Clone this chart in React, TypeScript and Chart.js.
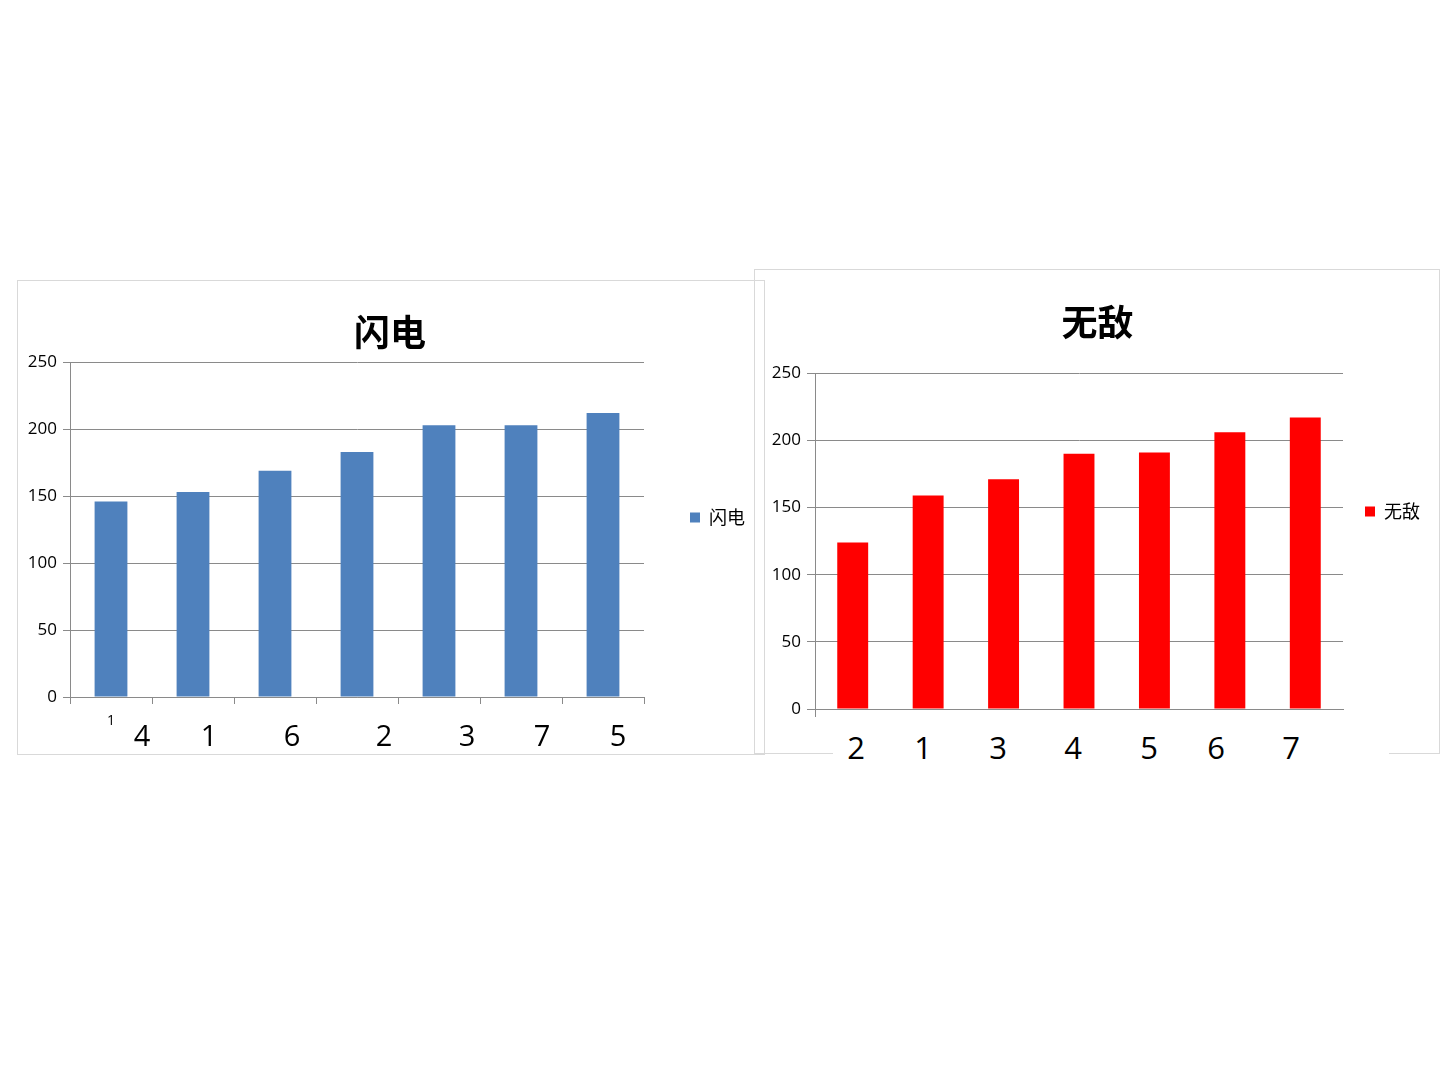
import React, { useEffect, useRef } from "react";
import { Chart, registerables } from "chart.js";

Chart.register(...registerables);

// ---- data ----
const leftTitle = "闪电";
const leftSeriesName = "闪电";
const leftAxisLabels = ["1", "", "", "", "", "", ""];
const leftValues = [146, 153, 169, 183, 203, 203, 212];
const leftNames = ["4", "1", "6", "2", "3", "7", "5"];

const rightTitle = "无敌";
const rightSeriesName = "无敌";
const rightAxisLabels = ["", "", "", "", "", "", ""];
const rightValues = [124, 159, 171, 190, 191, 206, 217];
const rightNames = ["2", "1", "3", "4", "5", "6", "7"];

const yMin = 0;
const yMax = 250;
const yStep = 50;

// ---- layout (page pixels) ----
const leftNameX = [142, 209, 292, 384, 467, 542, 618];
const rightNameX = [856, 923, 998, 1073, 1149, 1216, 1291];

const FONT = '"Open Sans", "Noto Sans CJK SC", sans-serif';
const CJK = '"Noto Sans CJK SC", "Open Sans", sans-serif';
const GRID = "#8a8a8a";

type Cfg = {
  labels: string[];
  values: number[];
  title: string;
  series: string;
  color: string;
  width: number;
  height: number;
  padding: { left: number; right: number; top: number; bottom: number };
  titlePad: { top: number; bottom: number };
  legendPad: number;
  yWidth: number;
  yTickLen: number;
  xHeight: number;
  xTickLen: number;
  xTicksAll: boolean;
  barPct: number;
};

function BarChart({ cfg }: { cfg: Cfg }) {
  const ref = useRef<HTMLCanvasElement | null>(null);
  useEffect(() => {
    if (!ref.current) return;
    const chart = new Chart(ref.current, {
      type: "bar",
      data: {
        labels: cfg.labels,
        datasets: [
          {
            label: cfg.series,
            data: cfg.values,
            backgroundColor: cfg.color,
            borderWidth: 0,
            barPercentage: cfg.barPct,
            categoryPercentage: 1,
          },
        ],
      },
      options: {
        responsive: false,
        animation: false,
        devicePixelRatio: 1,
        layout: { padding: cfg.padding },
        plugins: {
          tooltip: { enabled: false },
          title: {
            display: true,
            text: cfg.title,
            color: "#000",
            font: { family: CJK, size: 36, weight: "bold", lineHeight: 1.2 },
            padding: cfg.titlePad,
          },
          legend: {
            display: true,
            position: "right",
            labels: {
              color: "#000",
              font: { family: CJK, size: 18 },
              boxWidth: 10,
              boxHeight: 10,
              padding: cfg.legendPad,
            },
          },
        },
        scales: {
          x: {
            afterFit: (s: any) => {
              s.height = cfg.xHeight;
            },
            grid: {
              display: true,
              offset: true,
              drawOnChartArea: false,
              drawTicks: true,
              tickLength: cfg.xTickLen,
              color: (c: any) =>
                cfg.xTicksAll || c.index === 0 ? GRID : "rgba(0,0,0,0)",
            },
            border: { display: true, color: GRID, width: 1 },
            ticks: {
              color: "#000",
              font: { family: FONT, size: 14 },
              padding: 9,
              maxRotation: 0,
              autoSkip: false,
            },
          },
          y: {
            min: yMin,
            max: yMax,
            afterFit: (s: any) => {
              s.width = cfg.yWidth;
            },
            grid: {
              color: GRID,
              lineWidth: 1,
              drawTicks: true,
              tickLength: cfg.yTickLen,
            },
            border: { display: true, color: GRID, width: 1 },
            ticks: {
              stepSize: yStep,
              color: "#000",
              font: { family: FONT, size: 17 },
              padding: 6,
            },
          },
        },
      },
    });
    return () => chart.destroy();
  }, [cfg]);
  return (
    <canvas
      ref={ref}
      width={cfg.width}
      height={cfg.height}
      style={{ position: "absolute", left: 0, top: 0, width: cfg.width, height: cfg.height }}
    />
  );
}

const leftCfg: Cfg = {
  labels: leftAxisLabels,
  values: leftValues,
  title: leftTitle,
  series: leftSeriesName,
  color: "#4F81BD",
  width: 748,
  height: 475,
  padding: { left: 8, right: 10, top: 0, bottom: 0 },
  titlePad: { top: 31, bottom: 8 },
  legendPad: 46,
  yWidth: 45,
  yTickLen: 7,
  xHeight: 58,
  xTickLen: 7,
  xTicksAll: true,
  barPct: 0.4,
};

const rightCfg: Cfg = {
  labels: rightAxisLabels,
  values: rightValues,
  title: rightTitle,
  series: rightSeriesName,
  color: "#FF0000",
  width: 686,
  height: 485,
  padding: { left: 11, right: 10, top: 0, bottom: 0 },
  titlePad: { top: 32, bottom: 29 },
  legendPad: 22,
  yWidth: 50,
  yTickLen: 8,
  xHeight: 45,
  xTickLen: 8,
  xTicksAll: false,
  barPct: 0.41,
};

function Panel({ x, y, cfg }: { x: number; y: number; cfg: Cfg }) {
  return (
    <div style={{ position: "absolute", left: x, top: y, width: cfg.width, height: cfg.height }}>
      <div
        style={{
          position: "absolute",
          left: 0,
          top: 0,
          width: cfg.width,
          height: cfg.height,
          boxSizing: "border-box",
          border: "1px solid #d9d9d9",
        }}
      />
      <BarChart cfg={cfg} />
    </div>
  );
}

function Name({ x, y, text, size }: { x: number; y: number; text: string; size: number }) {
  return (
    <div
      style={{
        position: "absolute",
        left: x - 20,
        top: y - size * 0.7,
        width: 40,
        textAlign: "center",
        fontFamily: FONT,
        fontSize: size,
        lineHeight: `${size * 1.4}px`,
        color: "#000",
      }}
    >
      {text}
    </div>
  );
}

export default function App() {
  return (
    <div
      style={{
        position: "fixed",
        left: 0,
        top: 0,
        width: 1440,
        height: 1080,
        background: "#fff",
        overflow: "hidden",
      }}
    >
      <Panel x={17} y={280} cfg={leftCfg} />
      <Panel x={754} y={269} cfg={rightCfg} />
      {leftNames.map((t, i) => (
        <Name key={"l" + i} x={leftNameX[i]} y={735} text={t} size={29} />
      ))}
      <div
        style={{
          position: "absolute",
          left: 833,
          top: 724,
          width: 556,
          height: 50,
          background: "#fff",
        }}
      />
      {rightNames.map((t, i) => (
        <Name key={"r" + i} x={rightNameX[i]} y={748} text={t} size={31} />
      ))}
    </div>
  );
}
